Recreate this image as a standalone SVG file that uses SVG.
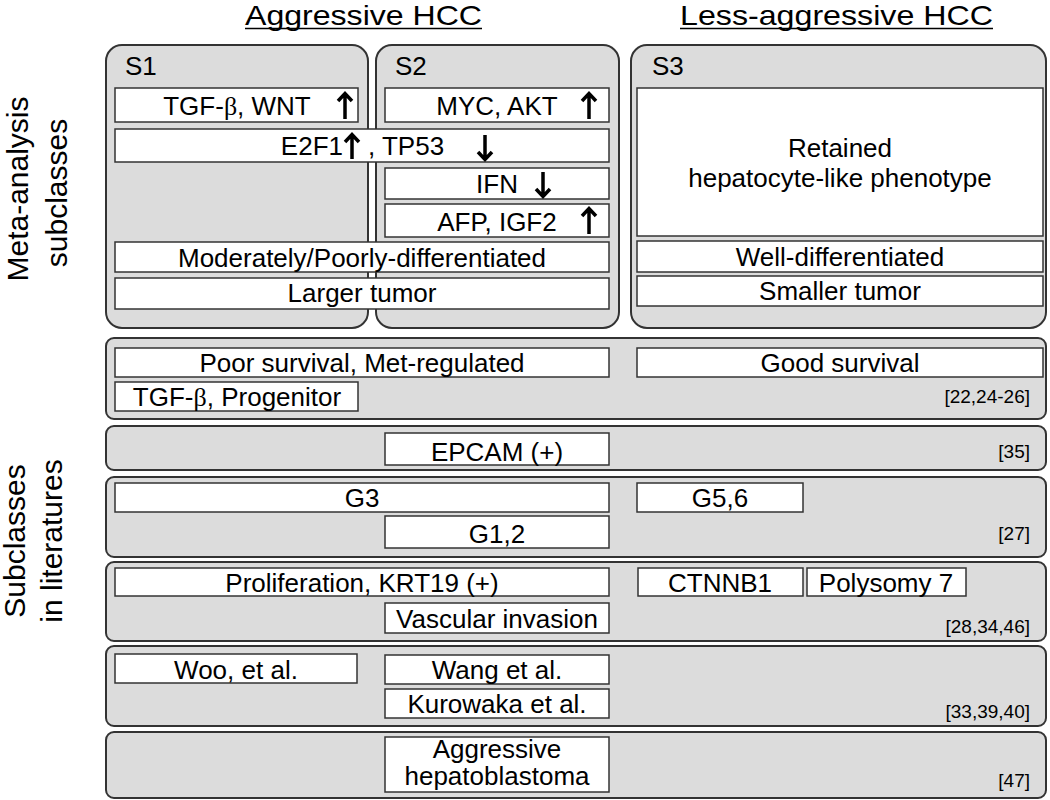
<svg xmlns="http://www.w3.org/2000/svg" width="1050" height="800" viewBox="0 0 1050 800">
<style>
.panel{fill:#dcdcdc;stroke:#333;stroke-width:2}
.box{fill:#fff;stroke:#333;stroke-width:1.5}
text{font-family:"Liberation Sans",Arial,sans-serif;fill:#000}
.t{font-size:26px;text-anchor:middle}
.s{font-size:26px}
.ref{font-size:19px;text-anchor:end}
.hd{font-size:28px;text-anchor:middle}
.ul{stroke:#000;stroke-width:1.6}
.side{font-size:30px;text-anchor:middle}
.arr{fill:none;stroke:#000;stroke-width:3.5;stroke-linejoin:miter}
.beta{font-family:"Liberation Serif","Times New Roman",serif}
</style>
<rect width="1050" height="800" fill="#fff"/>

<g id="headers">
<text class="hd" x="363.5" y="25" textLength="237" lengthAdjust="spacingAndGlyphs">Aggressive HCC</text>
<line class="ul" x1="245" y1="28.5" x2="482" y2="28.5"/>
<text class="hd" x="836.5" y="25" textLength="313" lengthAdjust="spacingAndGlyphs">Less-aggressive HCC</text>
<line class="ul" x1="680" y1="28.5" x2="993" y2="28.5"/>
</g>
<g id="side-labels">
<text class="side" transform="translate(28,189) rotate(-90)">Meta-analysis</text>
<text class="side" transform="translate(67,193) rotate(-90)">subclasses</text>
<text class="side" transform="translate(25,541) rotate(-90)">Subclasses</text>
<text class="side" transform="translate(62,541) rotate(-90)">in literatures</text>
</g>

<g id="S1">
<rect class="panel" x="106" y="45" width="262" height="283" rx="16"/>
<text class="s" x="125" y="75">S1</text>
</g>
<g id="S2">
<rect class="panel" x="376" y="45" width="243" height="283" rx="16"/>
<text class="s" x="395" y="75">S2</text>
</g>
<g id="S3">
<rect class="panel" x="631" y="45" width="415" height="283" rx="16"/>
<text class="s" x="652" y="75">S3</text>
</g>

<g id="tgf-wnt">
<rect class="box" x="115" y="88" width="243" height="34"/>
<text class="t" x="237" y="115">TGF-<tspan class="beta">β</tspan>, WNT</text>
<path class="arr" d="M345 119V93M338 101L345 93.5L352 101"/>
</g>
<g id="myc-akt">
<rect class="box" x="385" y="88" width="224" height="34"/>
<text class="t" x="497" y="115">MYC, AKT</text>
<path class="arr" d="M589 119V93M582 101L589 93.5L596 101"/>
</g>
<g id="e2f1-tp53">
<rect class="box" x="115" y="129" width="494" height="33"/>
<text class="s" x="343" y="155" text-anchor="end">E2F1</text>
<text class="s" x="368" y="155">, TP53</text>
<path class="arr" d="M352 159V134M345 142L352 134.5L359 142"/>
<path class="arr" d="M485 135V160M478 152L485 159.5L492 152"/>
</g>
<g id="ifn">
<rect class="box" x="385" y="168" width="224" height="31"/>
<text class="t" x="497" y="193">IFN</text>
<path class="arr" d="M543 172V197M536 189L543 196.5L550 189"/>
</g>
<g id="afp-igf2">
<rect class="box" x="385" y="204" width="224" height="33"/>
<text class="t" x="497" y="231">AFP, IGF2</text>
<path class="arr" d="M589 234V208M582 216L589 208.5L596 216"/>
</g>
<g id="mod-poor">
<rect class="box" x="115" y="242" width="494" height="30"/>
<text class="t" x="362" y="267">Moderately/Poorly-differentiated</text>
</g>
<g id="larger">
<rect class="box" x="115" y="278" width="494" height="31"/>
<text class="t" x="362" y="302">Larger tumor</text>
</g>
<g id="retained">
<rect class="box" x="637" y="88" width="406" height="148"/>
<text class="t" x="840" y="157">Retained</text>
<text class="t" x="840" y="187">hepatocyte-like phenotype</text>
</g>
<g id="well">
<rect class="box" x="637" y="241" width="406" height="31"/>
<text class="t" x="840" y="266">Well-differentiated</text>
</g>
<g id="smaller">
<rect class="box" x="637" y="276" width="406" height="30"/>
<text class="t" x="840" y="300">Smaller tumor</text>
</g>

<g id="panel1">
<rect class="panel" x="106" y="338" width="940" height="81" rx="8"/>
<rect class="box" x="115" y="348" width="494" height="29"/>
<text class="t" x="362" y="372">Poor survival, Met-regulated</text>
<rect class="box" x="115" y="382" width="243" height="29"/>
<text class="t" x="237" y="406">TGF-<tspan class="beta">β</tspan>, Progenitor</text>
<rect class="box" x="637" y="348" width="406" height="29"/>
<text class="t" x="840" y="372">Good survival</text>
<text class="ref" x="1030" y="403">[22,24-26]</text>
</g>
<g id="panel2">
<rect class="panel" x="106" y="426" width="940" height="44" rx="8"/>
<rect class="box" x="385" y="433" width="224" height="32"/>
<text class="t" x="497" y="461">EPCAM (+)</text>
<text class="ref" x="1030" y="458">[35]</text>
</g>
<g id="panel3">
<rect class="panel" x="106" y="477" width="940" height="80" rx="8"/>
<rect class="box" x="115" y="483" width="494" height="29"/>
<text class="t" x="362" y="507">G3</text>
<rect class="box" x="385" y="516" width="224" height="32"/>
<text class="t" x="497" y="543">G1,2</text>
<rect class="box" x="637" y="483" width="166" height="29"/>
<text class="t" x="720" y="507">G5,6</text>
<text class="ref" x="1030" y="540">[27]</text>
</g>
<g id="panel4">
<rect class="panel" x="106" y="562" width="940" height="79" rx="8"/>
<rect class="box" x="115" y="568" width="494" height="28"/>
<text class="t" x="362" y="592">Proliferation, KRT19 (+)</text>
<rect class="box" x="385" y="603" width="224" height="30"/>
<text class="t" x="497" y="628">Vascular invasion</text>
<rect class="box" x="638" y="568" width="165" height="28"/>
<text class="t" x="720" y="592">CTNNB1</text>
<rect class="box" x="807" y="568" width="159" height="28"/>
<text class="t" x="886" y="592">Polysomy 7</text>
<text class="ref" x="1030" y="633">[28,34,46]</text>
</g>
<g id="panel5">
<rect class="panel" x="106" y="646" width="940" height="80" rx="8"/>
<rect class="box" x="115" y="654" width="242" height="29"/>
<text class="t" x="236" y="679">Woo, et al.</text>
<rect class="box" x="385" y="655" width="224" height="29"/>
<text class="t" x="497" y="679">Wang et al.</text>
<rect class="box" x="385" y="689" width="224" height="29"/>
<text class="t" x="497" y="713">Kurowaka et al.</text>
<text class="ref" x="1030" y="718">[33,39,40]</text>
</g>
<g id="panel6">
<rect class="panel" x="106" y="732" width="940" height="66" rx="8"/>
<rect class="box" x="385" y="737" width="224" height="55"/>
<text class="t" x="497" y="758">Aggressive</text>
<text class="t" x="497" y="785">hepatoblastoma</text>
<text class="ref" x="1030" y="787">[47]</text>
</g>
<g id="connectors"></g>
</svg>
